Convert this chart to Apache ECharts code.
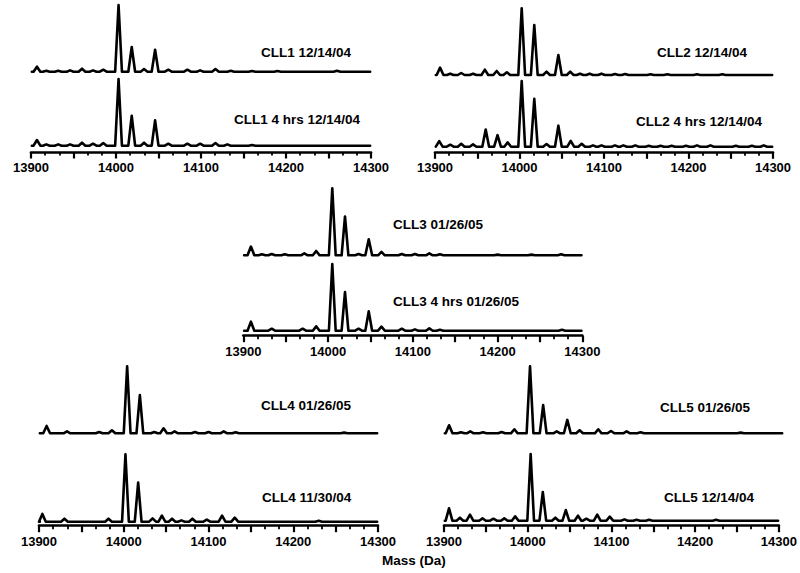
<!DOCTYPE html>
<html>
<head>
<meta charset="utf-8">
<script src="https://cdn.jsdelivr.net/npm/echarts@6/dist/echarts.min.js"></script>
<style>
html,body{margin:0;padding:0;background:#fff;}
#chart{width:800px;height:573px;}
</style>
</head>
<body>
<div id="chart"></div>
<script>
// Axis range and tick labels
var massMin = 13900;
var massMax = 14300;
var tickLabels = [13900, 14000, 14100, 14200, 14300];
var axisTitle = 'Mass (Da)';

// Trace names
var traceNames = [
  'CLL1 12/14/04', 'CLL1 4 hrs 12/14/04',
  'CLL2 12/14/04', 'CLL2 4 hrs 12/14/04',
  'CLL3 01/26/05', 'CLL3 4 hrs 01/26/05',
  'CLL4 01/26/05', 'CLL4 11/30/04',
  'CLL5 01/26/05', 'CLL5 12/14/04'
];

// Peaks [mass (Da), relative intensity %]
var cll1_a = [[13907,7.5],[13918,1.5],[13932,1.5],[13946,2],[13960,4.5],[13973,2],[13985,3],[14003,100],[14018.5,37],[14033,4],[14046,33],[14061.5,3],[14084,3],[14099,2],[14117,4],[14135,1.5],[14160,1],[14190,1],[14260,1.5]];
var cll1_b = [[13907,8.5],[13918,2],[13932,2],[13946,2],[13960,4.5],[13973,3],[13985,4],[14003,100],[14018.5,45],[14033,4.5],[14046,38],[14061.5,3],[14084,3],[14099,3],[14117,4],[14131,2],[14160,1]];
var cll2_a = [[13906,11],[13918,2],[13931,3],[13945,2],[13959,8],[13973,6],[13985,4],[14002.6,100],[14017.5,75],[14032,5],[14046,30],[14060,5],[14071.6,2],[14083,2],[14097,2],[14113,1.5],[14125,1.5],[14155,1],[14175,1],[14210,1],[14240,1]];
var cll2_b = [[13905,8.5],[13918,3],[13931,4.5],[13945,3.5],[13960,26],[13974,17.5],[13986,6.5],[14002.6,100],[14017.5,73],[14032,4],[14046,32],[14060.6,9],[14073.6,4.5],[14087,2],[14097,2],[14113,2],[14123,2],[14137,2],[14153,1.5],[14167,1.5],[14180,1.5],[14197,1.5],[14210,2],[14226,2],[14256,1.5],[14275,1.5],[14289,2]];
var cll3_a = [[13909,13],[13922,1.5],[13933.5,2],[13949,1.5],[13972,3],[13986,6.5],[14005,100],[14020,58],[14036,2],[14048,24],[14063,5],[14087,2],[14102.5,2],[14119.5,3],[14132,1.5],[14200,1],[14240,1],[14275,1.5]];
var cll3_b = [[13909,13.5],[13933.5,3],[13970,3],[13986,6.5],[14005,100],[14020,58],[14036,3],[14048,29],[14063,6],[14087,3],[14102.5,2],[14119.5,3.5],[14132,1.5],[14276,1.5]];
var cll4_a = [[13909,11],[13933,3],[13971,2],[13986,4.5],[14004,100],[14019,57],[14036,2],[14047,7.5],[14060,3],[14084,2],[14100,2],[14118,3],[14132,1.5],[14260,1]];
var cll4_b = [[13904,11.5],[13930,4.5],[13982,4.5],[14002,100],[14017,58],[14034,5],[14045,9],[14057,4.5],[14068,2],[14081,4.5],[14098,3],[14116,9],[14131,6],[14230,1.5]];
var cll5_a = [[13906,12],[13920,1.5],[13931,3],[13946,1.5],[13968,2],[13983,6],[14001.5,100],[14017,42],[14033,3],[14045.5,20],[14060,4.5],[14082,6],[14097,3.5],[14115.5,3],[14132,1.5],[14250,1]];
var cll5_b = [[13906,18.5],[13919,4.5],[13931,9],[13946,3.5],[13959,3],[13972,3.5],[13985,6.5],[14003.5,100],[14018,43],[14033,4.5],[14045.5,16],[14060,7.5],[14070,3],[14083,9],[14098,6],[14115.5,2],[14130,1.5],[14145,1.5],[14225,1.5]];

var traces = [cll1_a, cll1_b, cll2_a, cll2_b, cll3_a, cll3_b, cll4_a, cll4_b, cll5_a, cll5_b];

// Layout (pixels): grid for each trace, and axis offset for bottom traces
var layout = [
  {left:31,  width:340, top:5,     height:66.7, axis:false, label:[261,53]},
  {left:31,  width:340, top:79,    height:66.7, axis:6.3,   label:[234,120]},
  {left:435, width:338, top:8.3,   height:66.7, axis:false, label:[657,53]},
  {left:435, width:338, top:81,    height:65.7, axis:5.6,   label:[636,122.5]},
  {left:243.3,width:339,top:188.3, height:67,   axis:false, label:[393,225]},
  {left:243.3,width:339,top:264,   height:66.7, axis:5,     label:[393,302.5]},
  {left:39,  width:339, top:366.3, height:67,   axis:false, label:[261,406]},
  {left:39,  width:339, top:454.3, height:67.4, axis:4,     label:[262,498.3]},
  {left:444, width:339, top:366.3, height:67,   axis:false, label:[660,408.3]},
  {left:444, width:339, top:454,   height:66.7, axis:5,     label:[664,498.3]}
];

var HW = 4; // half base width of each peak, Da
function toLine(peaks) {
  var d = [[massMin + 1, 0]];
  peaks.forEach(function (p) {
    d.push([p[0] - HW, 0]);
    d.push([p[0], p[1]]);
    d.push([p[0] + HW, 0]);
  });
  d.push([massMax - 1, 0]);
  return d;
}

var FONT = 'Liberation Sans, Arial, sans-serif';
var grids = [], xAxes = [], yAxes = [], series = [], graphics = [];
layout.forEach(function (L, i) {
  grids.push({left: L.left, width: L.width, top: L.top, height: L.height, containLabel: false});
  var showAx = L.axis !== false;
  xAxes.push({
    type: 'value', gridIndex: i, min: massMin, max: massMax, interval: 50,
    show: showAx, offset: showAx ? L.axis : 0,
    axisLine: {show: true, onZero: false, lineStyle: {color: '#000', width: 2.6}},
    axisTick: {show: true, length: 6.5, lineStyle: {color: '#000', width: 2.2}},
    minorTick: {show: true, splitNumber: 3, length: 3.5, lineStyle: {color: '#000', width: 1.8}},
    splitLine: {show: false}, minorSplitLine: {show: false},
    axisLabel: {
      show: true, margin: 9, color: '#000', fontFamily: FONT, fontWeight: 'bold', fontSize: 13,
      showMinLabel: true, showMaxLabel: true,
      formatter: function (v) { return tickLabels.indexOf(v) >= 0 ? String(v) : ''; }
    }
  });
  yAxes.push({type: 'value', gridIndex: i, min: 0, max: 100, show: false});
  series.push({
    type: 'line', name: traceNames[i], xAxisIndex: i, yAxisIndex: i,
    data: toLine(traces[i]), showSymbol: false, symbol: 'none', clip: false,
    smooth: false, animation: false,
    lineStyle: {color: '#000', width: 2.6, join: 'round', cap: 'round'}
  });
  graphics.push({
    type: 'text', left: L.label[0], top: L.label[1] - 8,
    style: {text: traceNames[i], fill: '#000', font: 'bold 13.5px ' + FONT}
  });
});
graphics.push({
  type: 'text', left: 382, top: 553,
  style: {text: axisTitle, fill: '#000', font: 'bold 13.5px ' + FONT}
});

var chart = echarts.init(document.getElementById('chart'), null, {renderer: 'svg'});
chart.setOption({
  animation: false,
  backgroundColor: '#fff',
  grid: grids, xAxis: xAxes, yAxis: yAxes, series: series, graphic: graphics
});
</script>
</body>
</html>
